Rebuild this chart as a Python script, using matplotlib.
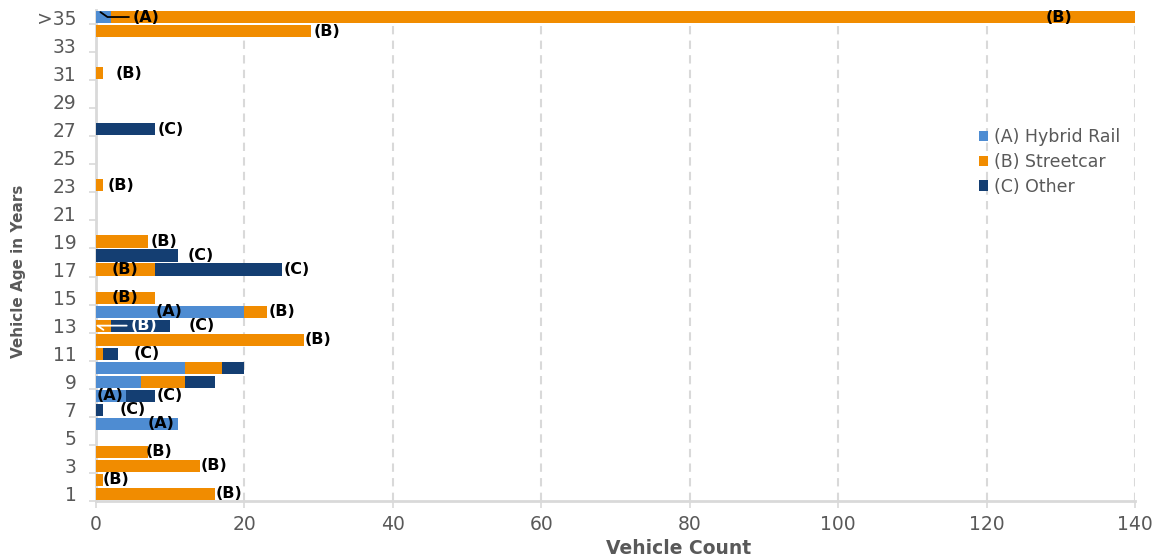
import numpy as np
import matplotlib.pyplot as plt
from matplotlib.patches import Patch

# vehicle age categories (bottom to top)
ages = [str(a) for a in range(1, 35)] + [">35"]

# vehicle counts per age, one list per mode
hybrid_rail = [0, 0, 0, 0, 0, 11, 0, 4, 6, 12, 0, 0, 0, 20, 0, 0, 0, 0,
               0, 0, 0, 0, 0, 0, 0, 0, 0, 0, 0, 0, 0, 0, 0, 0, 2]
streetcar = [16, 1, 14, 7, 0, 0, 0, 0, 6, 5, 1, 28, 2, 3, 8, 0, 8, 0,
             7, 0, 0, 0, 1, 0, 0, 0, 0, 0, 0, 0, 1, 0, 0, 29, 138]
other = [0, 0, 0, 0, 0, 0, 1, 4, 4, 3, 2, 0, 8, 0, 0, 0, 17, 11,
         0, 0, 0, 0, 0, 0, 0, 0, 8, 0, 0, 0, 0, 0, 0, 0, 0]

series_names = ["(A) Hybrid Rail", "(B) Streetcar", "(C) Other"]
colors = ["#4E8CD2", "#F18C00", "#143E72"]

# data labels: (age, text, x where the label starts, text colour)
labels = [
    (">35", "(B)", 128.0, "black"),
    ("34", "(B)", 29.3, "black"),
    ("31", "(B)", 2.6, "black"),
    ("27", "(C)", 8.3, "black"),
    ("23", "(B)", 1.6, "black"),
    ("19", "(B)", 7.3, "black"),
    ("18", "(C)", 12.4, "black"),
    ("17", "(B)", 2.1, "black"),
    ("17", "(C)", 25.3, "black"),
    ("15", "(B)", 2.1, "black"),
    ("14", "(A)", 8.0, "black"),
    ("14", "(B)", 23.3, "black"),
    ("13", "(C)", 12.5, "black"),
    ("12", "(B)", 28.1, "black"),
    ("11", "(C)", 5.1, "black"),
    ("8", "(A)", 0.1, "black"),
    ("8", "(C)", 8.2, "black"),
    ("7", "(C)", 3.2, "black"),
    ("6", "(A)", 7.0, "black"),
    ("4", "(B)", 6.7, "black"),
    ("3", "(B)", 14.1, "black"),
    ("2", "(B)", 0.9, "black"),
    ("1", "(B)", 16.1, "black"),
]

# labels that sit away from their bar and need a leader line
leader_labels = [
    (">35", "(A)", 5.0, "black", 0.6, 0.35),
    ("13", "(B)", 4.7, "white", 1.0, -0.3),
]

grey_text = "#595959"
axis_grey = "#D9D9D9"
label_size = 11.5

fig = plt.figure(figsize=(11.6, 5.58), dpi=100)
ax = fig.add_axes([96 / 1160, 57 / 558, 1039 / 1160, 491 / 558])

y = np.arange(len(ages))
left = np.zeros(len(ages))
for vals, name, col in zip([hybrid_rail, streetcar, other], series_names, colors):
    vals = np.array(vals, dtype=float)
    ax.barh(y, vals, left=left, height=0.86, color=col, label=name, zorder=3)
    left += vals

for age, txt, xpos, col in labels:
    ax.text(xpos, ages.index(age), txt, ha="left", va="center",
            fontsize=label_size, fontweight="bold", color=col, zorder=5)

for age, txt, xpos, col, px, dy in leader_labels:
    row = ages.index(age)
    ax.annotate(txt, xy=(px, row + dy), xytext=(xpos, row),
                ha="left", va="center", fontsize=label_size, fontweight="bold",
                color=col, zorder=5,
                arrowprops=dict(arrowstyle="-", color=col, lw=1.3,
                                shrinkA=1, shrinkB=0,
                                connectionstyle="angle,angleA=0,angleB=-35,rad=0"))

ax.set_xlim(0, 140)
ax.set_ylim(-0.5, len(ages) - 0.5)
ax.set_xticks(np.arange(0, 141, 20))

# only every other age gets a label, small ticks between label pairs
ax.set_yticks(y[::2])
ax.set_yticklabels(ages[::2])
ax.set_yticks(np.arange(-0.5, len(ages) - 0.5, 2), minor=True)
ax.tick_params(axis="y", which="major", length=0, pad=14,
               labelsize=13.5, labelcolor=grey_text)
ax.tick_params(axis="y", which="minor", length=5, width=1.2, color=axis_grey)
ax.tick_params(axis="x", length=5, width=1.2, color=axis_grey, pad=5,
               labelsize=13.5, labelcolor=grey_text)

ax.grid(axis="x", color=axis_grey, linestyle=(0, (4, 3)), linewidth=1.5, zorder=0)
ax.set_axisbelow(True)

for side in ["top", "right"]:
    ax.spines[side].set_visible(False)
for side in ["left", "bottom"]:
    ax.spines[side].set_color(axis_grey)
    ax.spines[side].set_linewidth(2)

ax.set_xlabel("Vehicle Count", fontsize=13.5, fontweight="bold", color=grey_text)
ax.xaxis.label.set_va("center")
ax.xaxis.set_label_coords(0.561, -0.096)
ax.set_ylabel("Vehicle Age in Years", fontsize=11, fontweight="bold", color=grey_text)
ax.yaxis.label.set_va("center")
ax.yaxis.set_label_coords(-0.075, 0.468)

handles = [Patch(facecolor=c, edgecolor="none") for c in colors]
fig.legend(handles, series_names, loc="upper left",
           bbox_to_anchor=(972 / 1160, 1 - 121 / 558), borderaxespad=0,
           frameon=False, fontsize=12.5, labelcolor=grey_text,
           handlelength=0.55, handleheight=0.55, handletextpad=0.3,
           labelspacing=0.4)

fig.savefig("out.png", dpi=100)
